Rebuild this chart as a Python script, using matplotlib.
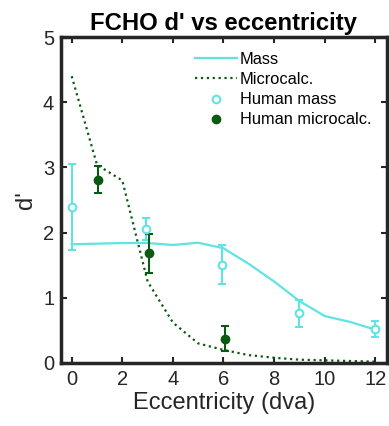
import matplotlib.pyplot as plt
from matplotlib.lines import Line2D

plt.rcParams['font.family'] = ['Liberation Sans', 'DejaVu Sans']

ecc = [0, 1, 2, 3, 4, 5, 6, 7, 8, 9, 10, 11, 12]
mass_model = [1.82, 1.83, 1.84, 1.84, 1.81, 1.845, 1.76, 1.52, 1.25, 0.95, 0.72, 0.63, 0.51]
micro_model = [4.4, 3.04, 2.8, 1.25, 0.62, 0.3, 0.2, 0.12, 0.08, 0.05, 0.04, 0.03, 0.02]

hm_x = [0, 2.95, 5.95, 9, 12]
hm_y = [2.39, 2.05, 1.50, 0.76, 0.52]
hm_lo = [1.73, 1.89, 1.21, 0.55, 0.40]
hm_hi = [3.06, 2.22, 1.81, 0.96, 0.65]

hc_x = [1.03, 3.05, 6.05]
hc_y = [2.81, 1.68, 0.37]
hc_lo = [2.61, 1.38, 0.19]
hc_hi = [3.02, 1.98, 0.56]

cyan = '#5fe3e3'
green = '#0b5a12'

fig = plt.figure(figsize=(3.89, 4.26), dpi=100)
ax = fig.add_axes([0.157, 0.148, 0.837, 0.765])

ax.plot(ecc, mass_model, '-', color=cyan, lw=1.6)
ax.plot(ecc, micro_model, ':', color=green, lw=1.6)
ax.errorbar(hm_x, hm_y,
            yerr=[[y - l for y, l in zip(hm_y, hm_lo)], [h - y for y, h in zip(hm_y, hm_hi)]],
            fmt='o', mfc='white', mec=cyan, mew=1.5, ms=5.5, ecolor=cyan, elinewidth=1.5,
            capsize=3, capthick=1.5)
ax.errorbar(hc_x, hc_y,
            yerr=[[y - l for y, l in zip(hc_y, hc_lo)], [h - y for y, h in zip(hc_y, hc_hi)]],
            fmt='o', mfc=green, mec=green, ms=6, ecolor=green, elinewidth=1.5,
            capsize=3, capthick=1.5)

ax.set_xlim(-0.42, 12.45)
ax.set_ylim(0, 5)
ax.set_xticks([0, 2, 4, 6, 8, 10, 12])
ax.set_yticks([0, 1, 2, 3, 4, 5])
ax.tick_params(direction='in', length=4, width=1.5, labelsize=14.5, colors='#262626',
               labelcolor='#262626', top=True, right=True, pad=5)
for s in ax.spines.values():
    s.set_linewidth(2.5)
    s.set_color('#262626')

ax.set_xlabel('Eccentricity (dva)', fontsize=17, color='#262626', labelpad=2)
ax.set_ylabel("d'", fontsize=17, color='#262626', labelpad=4)
ax.set_title("FCHO d' vs eccentricity", fontsize=17.2, fontweight='bold', pad=5)

handles = [
    Line2D([], [], color=cyan, lw=1.6, ls='-'),
    Line2D([], [], color=green, lw=1.6, ls=':'),
    Line2D([], [], color=cyan, ls='none', marker='o', mfc='white', mec=cyan, mew=1.5, ms=5.5),
    Line2D([], [], color=green, ls='none', marker='o', mfc=green, mec=green, ms=6),
]
labels = ['Mass', 'Microcalc.', 'Human mass', 'Human microcalc.']
ax.legend(handles, labels, loc='upper left', bbox_to_anchor=(0.39, 0.975), frameon=False,
          fontsize=11.8, handlelength=2.6, handletextpad=0.15, labelspacing=0.32,
          borderaxespad=0)

fig.savefig('out.png', dpi=100)
